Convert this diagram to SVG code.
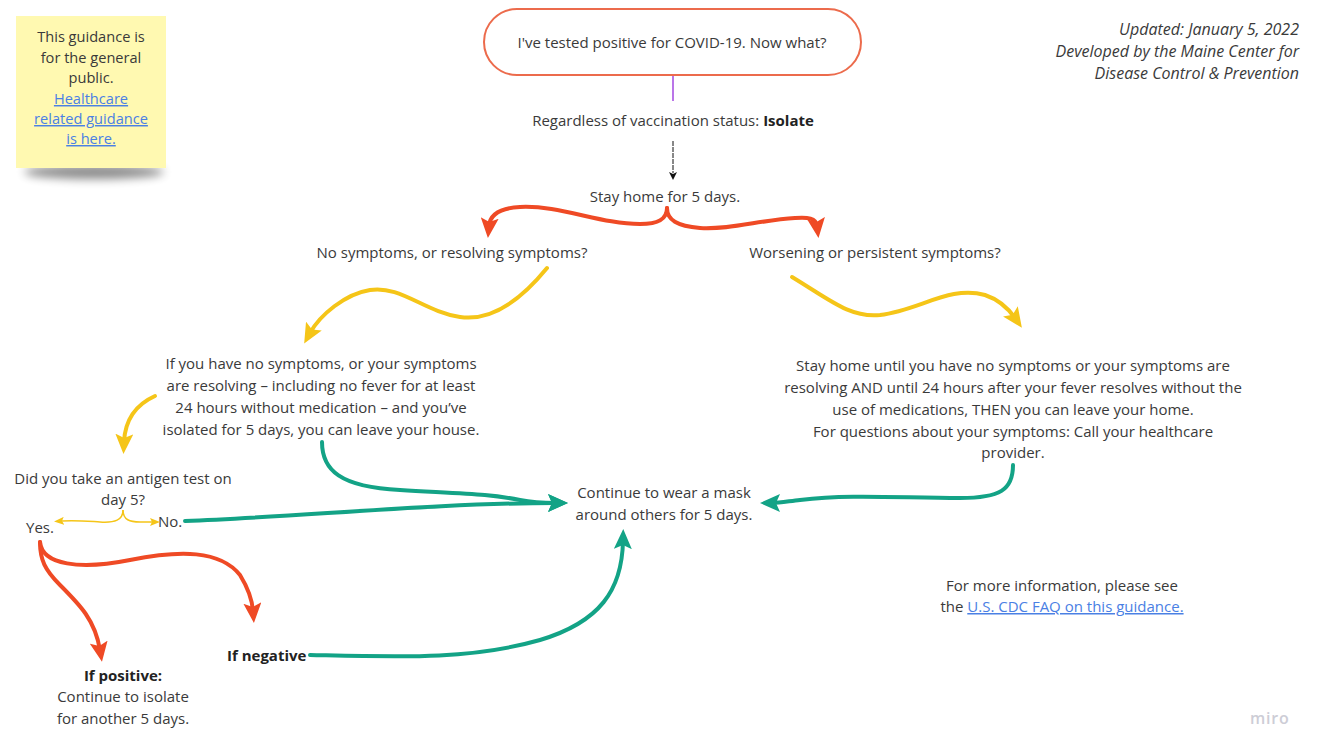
<svg xmlns="http://www.w3.org/2000/svg" width="1322" height="756" viewBox="0 0 1322 756">
<style>
text{font-family:"Open Sans","Noto Sans","Liberation Sans",sans-serif;font-size:15px;fill:#3a3a3a}
.c{text-anchor:middle}
.r{text-anchor:end;font-style:italic;font-size:16px}
.s{font-size:14.6px}
.b{font-weight:bold;fill:#222}
.lnk{fill:#4a80e4;text-decoration:underline}
.red{fill:none;stroke:#ef4a25;stroke-width:4;stroke-linecap:round}
.yel{fill:none;stroke:#f5c518;stroke-width:4;stroke-linecap:round}
.teal{fill:none;stroke:#13a386;stroke-width:4;stroke-linecap:round}
</style>
<defs>
<marker id="mr" viewBox="0 0 20 18" refX="8" refY="9" markerWidth="20" markerHeight="18" markerUnits="userSpaceOnUse" orient="auto"><path d="M0,0 L20,9 L0,18 L4,9 z" fill="#ef4a25"/></marker>
<marker id="my" viewBox="0 0 20 18" refX="8" refY="9" markerWidth="20" markerHeight="18" markerUnits="userSpaceOnUse" orient="auto"><path d="M0,0 L20,9 L0,18 L4,9 z" fill="#f5c518"/></marker>
<marker id="mt" viewBox="0 0 20 18" refX="8" refY="9" markerWidth="20" markerHeight="18" markerUnits="userSpaceOnUse" orient="auto"><path d="M0,0 L20,9 L0,18 L4,9 z" fill="#13a386"/></marker>
<marker id="mys" viewBox="0 0 10 8" refX="2" refY="4" markerWidth="10" markerHeight="8" markerUnits="userSpaceOnUse" orient="auto"><path d="M0,0 L10,4 L0,8 L2,4 z" fill="#f5c518"/></marker>
<marker id="mb" viewBox="0 0 8 10" refX="1" refY="5" markerWidth="8" markerHeight="10" markerUnits="userSpaceOnUse" orient="auto"><path d="M0,1 L8,5 L0,9 L2,5 z" fill="#111"/></marker>
<filter id="sh" x="-30%" y="-100%" width="160%" height="300%"><feGaussianBlur stdDeviation="5"/></filter>
</defs>
<rect width="1322" height="756" fill="#ffffff"/>

<g id="note">
<ellipse cx="94" cy="172" rx="70" ry="7" fill="#000" opacity="0.45" filter="url(#sh)"/>
<rect x="16" y="16" width="150" height="152" fill="#fff9b1"/>
<text class="c s" x="91" y="42">This guidance is</text>
<text class="c s" x="91" y="63">for the general</text>
<text class="c s" x="91" y="83">public.</text>
<text class="c s lnk" x="91" y="104">Healthcare </text>
<text class="c s lnk" x="91" y="124">related guidance </text>
<text class="c s lnk" x="91" y="144">is here. </text>
</g>

<g id="credits">
<text class="r" x="1299" y="35">Updated: January 5, 2022</text>
<text class="r" x="1299" y="57">Developed by the Maine Center for</text>
<text class="r" x="1299" y="79">Disease Control &amp; Prevention</text>
</g>

<g id="start">
<rect x="484" y="9" width="377" height="66" rx="33" fill="#fff" stroke="#ec6b4c" stroke-width="2"/>
<text class="c" x="672" y="48">I've tested positive for COVID-19. Now what?</text>
</g>

<g id="isolate"><text class="c" x="673" y="126">Regardless of vaccination status: <tspan class="b">Isolate</tspan></text></g>
<g id="stayhome"><text class="c" x="665" y="202">Stay home for 5 days.</text></g>
<g id="nosym"><text class="c" x="452" y="258">No symptoms, or resolving symptoms?</text></g>
<g id="worse"><text class="c" x="875" y="258">Worsening or persistent symptoms?</text></g>

<g id="leftinfo">
<text class="c" x="321" y="369">If you have no symptoms, or your symptoms</text>
<text class="c" x="321" y="391">are resolving – including no fever for at least</text>
<text class="c" x="321" y="413">24 hours without medication – and you’ve</text>
<text class="c" x="321" y="435">isolated for 5 days, you can leave your house.</text>
</g>

<g id="rightinfo">
<text class="c" x="1013" y="371">Stay home until you have no symptoms or your symptoms are</text>
<text class="c" x="1013" y="393">resolving AND until 24 hours after your fever resolves without the</text>
<text class="c" x="1013" y="415">use of medications, THEN you can leave your home.</text>
<text class="c" x="1013" y="437">For questions about your symptoms: Call your healthcare</text>
<text class="c" x="1013" y="458">provider.</text>
</g>

<g id="antigen">
<text class="c" x="123" y="484">Did you take an antigen test on</text>
<text class="c" x="123" y="505">day 5?</text>
</g>
<g id="yes"><text x="26" y="533">Yes.</text></g>
<g id="no"><text x="158" y="527">No.</text></g>

<g id="mask">
<text class="c" x="664" y="498">Continue to wear a mask</text>
<text class="c" x="664" y="520">around others for 5 days.</text>
</g>

<g id="positive">
<text class="c b" x="123" y="681">If positive:</text>
<text class="c" x="123" y="702">Continue to isolate</text>
<text class="c" x="123" y="724">for another 5 days.</text>
</g>
<g id="negative"><text class="b" x="227" y="661">If negative</text></g>

<g id="moreinfo">
<text class="c" x="1062" y="591">For more information, please see</text>
<text class="c" x="1062" y="612">the <tspan class="lnk">U.S. CDC FAQ on this guidance.</tspan></text>
</g>

<g id="brand"><text x="1250" y="724" style="font-size:16px;font-weight:600;fill:#cdcdd6;letter-spacing:0.8px">miro</text></g>

<g id="connectors">
<path d="M673,76 L673,101" fill="none" stroke="#a347e0" stroke-width="1.5"/>
<path d="M673,141 L673,173" fill="none" stroke="#111" stroke-width="1" stroke-dasharray="5,1" marker-end="url(#mb)"/>
<path class="red" d="M667,208 C667,220 657,224 640,224 C600,224 560,205 520,207 C500,208 490,215 489,226" marker-end="url(#mr)"/>
<path class="red" d="M667,208 C667,220 677,226 700,228 C730,230 760,220 795,218 C808,217 816,218 817,226" marker-end="url(#mr)"/>
<path class="yel" d="M547,268 C525,295 495,322 460,317 C425,312 400,285 370,290 C345,294 320,315 310,333" marker-end="url(#my)"/>
<path class="yel" d="M792,277 C830,300 850,318 880,315 C920,310 950,285 985,295 C1000,300 1008,308 1015,318" marker-end="url(#my)"/>
<path class="yel" d="M155,396 C135,405 125,420 124,442" marker-end="url(#my)"/>
<path d="M123,510 C123,520 115,523 100,522 C85,521 75,520 62,521" fill="none" stroke="#f5c518" stroke-width="1.5" marker-end="url(#mys)"/>
<path d="M123,510 C123,520 130,522 140,522 L152,522" fill="none" stroke="#f5c518" stroke-width="1.5" marker-end="url(#mys)"/>
<path class="teal" d="M185,521 C300,517 430,503 556,503" marker-end="url(#mt)"/>
<path class="teal" d="M322,442 C322,470 340,487 400,490 C470,494 490,494 520,500 C535,503 545,503 556,503" marker-end="url(#mt)"/>
<path class="teal" d="M1013,465 C1013,490 1000,498 960,498 C900,498 850,494 800,500 C790,501 780,503 772,503" marker-end="url(#mt)"/>
<path class="teal" d="M310,655 C400,657 470,660 540,640 C600,622 622,590 623,541" marker-end="url(#mt)"/>
<path class="red" d="M40,542 C40,560 45,570 60,585 C80,605 95,620 100,650" marker-end="url(#mr)"/>
<path class="red" d="M40,542 C42,565 80,570 130,560 C180,550 220,550 240,575 C248,588 252,598 253,611" marker-end="url(#mr)"/>
</g>
</svg>
